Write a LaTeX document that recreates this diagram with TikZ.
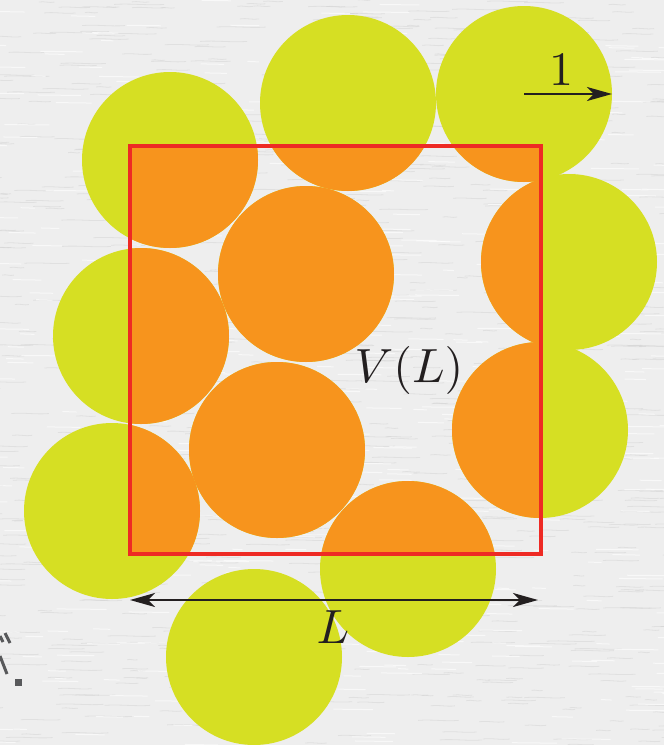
\documentclass[tikz,border=0pt]{standalone}
\usetikzlibrary{arrows.meta}
\definecolor{paper}{HTML}{EEEEEE}
\definecolor{paperdark}{HTML}{CFCFCF}
\definecolor{lime}{HTML}{D6DF23}
\definecolor{orng}{HTML}{F7941D}
\definecolor{redsq}{HTML}{EE2A24}
\definecolor{ink}{HTML}{231F20}
\definecolor{markgray}{HTML}{58595B}
\begin{document}
\begin{tikzpicture}[x=1pt,y=-1pt,
  disc/.style={fill=lime},
  discin/.style={fill=orng},
  frame/.style={draw=redsq,line width=4.5pt},
  dimarrow/.style={draw=ink,line width=2.2pt,-{Stealth[length=25pt,width=14pt,inset=7pt]}},
  dimarrows/.style={draw=ink,line width=2.2pt,{Stealth[length=25pt,width=14pt,inset=7pt]}-{Stealth[length=25pt,width=14pt,inset=7pt]}},
  lbl/.style={text=ink,anchor=base,inner sep=0pt,scale=4.8},
  scrap/.style={draw=markgray,line width=3pt}]
\fill[paper] (0,0) rectangle (664,745);
\useasboundingbox (0,0) rectangle (664,745);
% paper texture
\pgfmathsetseed{11}
\foreach \i in {1,...,900}{
  \pgfmathsetmacro\xx{rnd*700-30}
  \pgfmathsetmacro\yy{rnd*745}
  \pgfmathsetmacro\ll{10+rnd*40}
  \draw[paperdark,line width=0.8pt,opacity=0.45] (\xx,\yy) .. controls (\xx+\ll/3,\yy-1.2) and (\xx+2*\ll/3,\yy+1.2) .. (\xx+\ll,\yy);
}
\foreach \i in {1,...,500}{
  \pgfmathsetmacro\xx{rnd*700-30}
  \pgfmathsetmacro\yy{rnd*745}
  \pgfmathsetmacro\ll{10+rnd*40}
  \draw[white,line width=1pt,opacity=0.6] (\xx,\yy) -- (\xx+\ll,\yy+0.5);
}
% circle centres
\coordinate (c1) at (170,160);
\coordinate (c2) at (348,103);
\coordinate (c3) at (524,94);
\coordinate (c4) at (569,262);
\coordinate (c5) at (141,336);
\coordinate (c6) at (306,274);
\coordinate (c7) at (277,450);
\coordinate (c8) at (540,430);
\coordinate (c9) at (112,511);
\coordinate (c10) at (408,569);
\coordinate (c11) at (254,657);
% square corners
\coordinate (sqA) at (130,146);
\coordinate (sqB) at (541,554);
% discs outside
\foreach \c in {c1,c2,c3,c4,c5,c6,c7,c8,c9,c10,c11}
  \fill[disc] (\c) circle[radius=88pt];
% discs inside the box
\begin{scope}
  \clip (sqA) rectangle (sqB);
  \foreach \c in {c1,c2,c3,c4,c5,c6,c7,c8,c9,c10,c11}
    \fill[discin] (\c) circle[radius=88pt];
\end{scope}
% box
\draw[frame] (sqA) rectangle (sqB);
% unit arrow
\coordinate (r3) at (612,94);
\draw[dimarrow] (c3) -- (r3);
\node[lbl] (one) at (561,85) {$1$};
% L arrow
\coordinate (Lleft) at (130,600);
\coordinate (Lright) at (538,600);
\draw[dimarrows] (Lleft) -- (Lright);
\node[lbl] (Llab) at (333,643) {$L$};
% V(L)
\node[lbl] (VL) at (409,382) {$V(L)$};
% scrap marks at lower left
\draw[scrap] (0,636) -- (3,642);
\draw[scrap] (5,633) -- (10,643);
\draw[scrap] (0,656) -- (7,674);
\fill[markgray] (15,679) rectangle (22,686);
\end{tikzpicture}
\end{document}
